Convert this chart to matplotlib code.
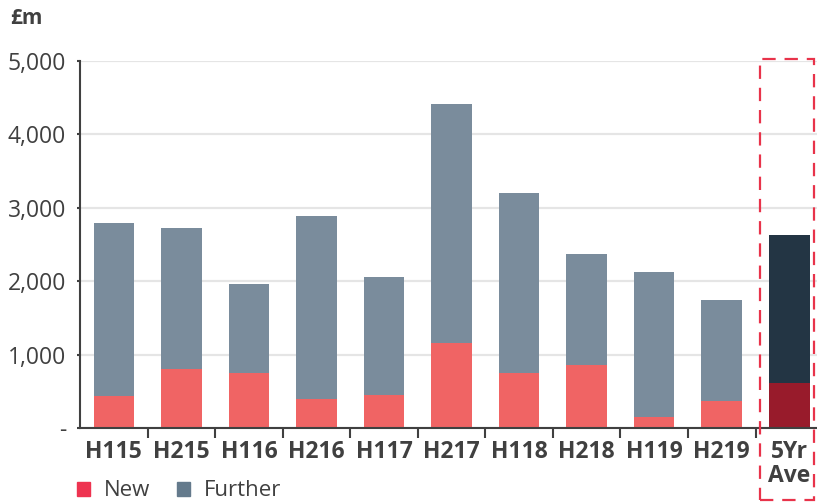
import numpy as np
from matplotlib import pyplot as plt
from matplotlib.patches import Patch, Rectangle
from matplotlib.ticker import FuncFormatter

periods = ['H115', 'H215', 'H116', 'H216', 'H117', 'H217', 'H118', 'H218', 'H119', 'H219', '5Yr\nAve']
new_lending = [436, 804, 749, 395, 450, 1158, 749, 858, 150, 368, 613]
total_lending = [2793, 2725, 1962, 2888, 2057, 4414, 3202, 2371, 2125, 1744, 2629]
further_lending = [t - n for t, n in zip(total_lending, new_lending)]

new_colours = ['#f06464'] * 10 + ['#981b2b']
further_colours = ['#7a8c9c'] * 10 + ['#233544']
text_colour = '#404040'

plt.rcParams['font.family'] = ['Open Sans', 'DejaVu Sans']

fig = plt.figure(figsize=(8.17, 5.03), dpi=100)
ax = fig.add_axes([80 / 817, 75 / 503, 737 / 817, 367 / 503])

x = np.arange(len(periods))
ax.bar(x, new_lending, width=0.6, color=new_colours, zorder=3)
ax.bar(x, further_lending, width=0.6, bottom=new_lending, color=further_colours, zorder=3)

ax.set_xlim(-0.5, 10.41)
ax.set_ylim(0, 5000)
ax.set_yticks([0, 1000, 2000, 3000, 4000, 5000])
ax.yaxis.set_major_formatter(FuncFormatter(lambda v, p: '-' if v == 0 else f'{int(v):,}'))
ax.grid(axis='y', color='#e5e5e5', linewidth=1.6, zorder=0)
ax.tick_params(axis='y', length=2, width=1.5, color=text_colour, labelsize=16.5,
               labelcolor=text_colour, pad=8)

ax.set_xticks(x)
ax.set_xticklabels(periods, fontsize=16.5, fontweight='bold', color=text_colour,
                   linespacing=1.0, va='top')
ax.tick_params(axis='x', which='major', length=0, pad=9)
ax.set_xticks(np.arange(0.5, 9.6, 1), minor=True)
ax.tick_params(axis='x', which='minor', length=7, width=1.5, color=text_colour)

for side in ['top', 'right']:
    ax.spines[side].set_visible(False)
for side in ['left', 'bottom']:
    ax.spines[side].set_color(text_colour)
    ax.spines[side].set_linewidth(1.5)
    ax.spines[side].set_zorder(4)

# dashed frame around the five year average
ax.add_patch(Rectangle((9.57, -980), 0.8, 6010, fill=False, edgecolor='#e8334a',
                       linewidth=1.6, linestyle=(0, (6, 4)), clip_on=False, zorder=5))

fig.text(10 / 817, 1 - 18 / 503, '£m', fontsize=15, fontweight='bold', color=text_colour,
         va='center')

handles = [Patch(color='#ee3350', label='New'), Patch(color='#647a8c', label='Further')]
fig.legend(handles=handles, loc='center left', bbox_to_anchor=(77 / 817, 1 - 491 / 503),
           ncol=2, frameon=False, fontsize=16, handlelength=0.6, handleheight=0.6,
           handletextpad=0.6, columnspacing=1.2, borderpad=0, borderaxespad=0,
           labelcolor=text_colour)

fig.savefig('out.png', dpi=100)
